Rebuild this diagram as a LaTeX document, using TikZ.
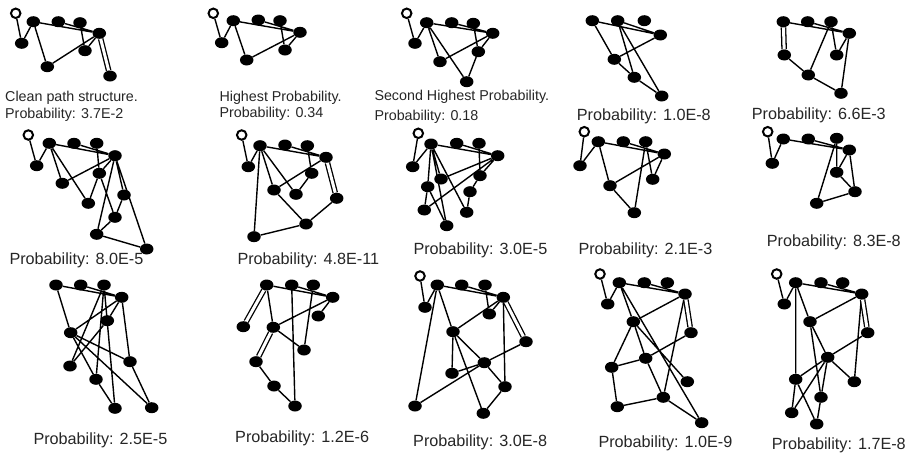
\documentclass[tikz,border=0pt]{standalone}
\usepackage{fontspec}
\setmainfont{Liberation Sans}
\usetikzlibrary{shapes.geometric}
\pgfdeclarelayer{bg}
\pgfsetlayers{bg,main}
\tikzset{
  v/.style={ellipse, fill=black, minimum width=13.5pt, minimum height=11pt, inner sep=0pt},
  w/.style={circle, draw=black, line width=2pt, fill=white, minimum size=9.5pt, inner sep=0pt},
  e/.style={line width=1.4pt, black},
  dd/.style={line width=1.3pt, double=white, double distance=3pt, black},
  lbl/.style={font=\fontsize{14.3pt}{17pt}\selectfont, text=black!85, anchor=west, inner sep=0pt, align=left},
  lbb/.style={font=\fontsize{16.2pt}{19pt}\selectfont, text=black!85, anchor=west, inner sep=0pt, align=left}
}
\begin{document}
\begin{tikzpicture}[x=1pt,y=-1pt]
\useasboundingbox (0,0) rectangle (911,458);
% ---------- Graph 1
\node[w] (g1w) at (15.7,13.3) {};
\node[v] (g1a) at (33.3,21.7) {};
\node[v] (g1b) at (58.3,21.7) {};
\node[v] (g1c) at (80,22.7) {};
\node[v] (g1d) at (99.3,33.3) {};
\node[v] (g1e) at (21.7,43.3) {};
\node[v] (g1f) at (85,50.7) {};
\node[v] (g1g) at (47.3,66.7) {};
\node[v] (g1h) at (110,76) {};
\begin{pgfonlayer}{bg}
\draw[e] (g1w)--(g1e) (g1e)--(g1a) (g1a)--(g1g) (g1a)--(g1d) (g1b)--(g1d) (g1c)--(g1f) (g1g)--(g1d) (g1f)--(g1d);
\draw[dd] (g1d)--(g1h);
\end{pgfonlayer}
\node[lbl] (t1) at (5,98) {Clean path structure.};
\node[lbl] (t1b) at (5,115) {Probability: 3.7E-2};
% ---------- Graph 2
\node[w] (g2w) at (213.3,13.3) {};
\node[v] (g2a) at (233.3,20.7) {};
\node[v] (g2b) at (258.3,20) {};
\node[v] (g2c) at (280,20.7) {};
\node[v] (g2d) at (300,32.3) {};
\node[v] (g2e) at (221.7,42.7) {};
\node[v] (g2f) at (285,50) {};
\node[v] (g2g) at (246.7,60) {};
\begin{pgfonlayer}{bg}
\draw[e] (g2w)--(g2e) (g2e)--(g2a) (g2a)--(g2g) (g2a)--(g2d) (g2b)--(g2d) (g2c)--(g2f) (g2g)--(g2d) (g2f)--(g2d);
\end{pgfonlayer}
\node[lbl] (t2) at (219.3,98.3) {Highest Probability.};
\node[lbl] (t2b) at (219.3,114) {Probability: 0.34};
% ---------- Graph 3
\node[w] (g3w) at (406.7,13.3) {};
\node[v] (g3a) at (426.7,22.7) {};
\node[v] (g3b) at (451.7,22.7) {};
\node[v] (g3c) at (473.3,23.3) {};
\node[v] (g3d) at (492.7,33.3) {};
\node[v] (g3e) at (415,43.3) {};
\node[v] (g3f) at (478.3,51.7) {};
\node[v] (g3g) at (440,61.7) {};
\node[v] (g3h) at (466.7,81.7) {};
\begin{pgfonlayer}{bg}
\draw[e] (g3w)--(g3e) (g3e)--(g3a) (g3a)--(g3d) (g3b)--(g3d) (g3c)--(g3f) (g3f)--(g3d) (g3g)--(g3d) (g3a)--(g3g) (g3a)--(g3h) (g3f)--(g3h);
\end{pgfonlayer}
\node[lbl] (t3) at (374.3,96.7) {Second Highest Probability.};
\node[lbl] (t3b) at (374.3,117.3) {Probability: 0.18};
% ---------- Graph 4
\node[v] (g4a) at (592.3,20.7) {};
\node[v] (g4b) at (617.7,20.7) {};
\node[v] (g4c) at (644.3,20.7) {};
\node[v] (g4d) at (660.3,35) {};
\node[v] (g4e) at (614.3,59.3) {};
\node[v] (g4f) at (634.3,77.3) {};
\node[v] (g4g) at (661.7,96) {};
\begin{pgfonlayer}{bg}
\draw[e] (g4a)--(g4d) (g4b)--(g4d) (g4a)--(g4e) (g4e)--(g4d) (g4b)--(g4f) (g4b)--(g4g) (g4e)--(g4f) (g4f)--(g4g);
\end{pgfonlayer}
\node[lbb] (t4) at (576.7,116) {Probability: 1.0E-8};
% ---------- Graph 5
\node[v] (g5a) at (783.3,21.7) {};
\node[v] (g5b) at (807.7,21.7) {};
\node[v] (g5c) at (831,21.7) {};
\node[v] (g5d) at (849.3,33.3) {};
\node[v] (g5e) at (784.3,55) {};
\node[v] (g5f) at (836.7,55) {};
\node[v] (g5g) at (808.3,75) {};
\node[v] (g5h) at (841,93.3) {};
\begin{pgfonlayer}{bg}
\draw[e] (g5a)--(g5d) (g5b)--(g5d) (g5c)--(g5g) (g5c)--(g5f) (g5f)--(g5d) (g5d)--(g5h) (g5e)--(g5g) (g5g)--(g5h);
\draw[dd] (g5a)--(g5e);
\end{pgfonlayer}
\node[lbb] (t5) at (751.7,115) {Probability: 6.6E-3};
% ---------- Graph 6
\node[w] (g6w) at (28.3,135) {};
\node[v] (g6a) at (49.3,143.3) {};
\node[v] (g6b) at (74,143.3) {};
\node[v] (g6c) at (96.7,143.3) {};
\node[v] (g6d) at (115,155.7) {};
\node[v] (g6e) at (36.7,165.7) {};
\node[v] (g6f) at (99.3,173.3) {};
\node[v] (g6g) at (62.3,183.3) {};
\node[v] (g6h) at (124,195) {};
\node[v] (g6i) at (88.3,203.3) {};
\node[v] (g6j) at (115,217.3) {};
\node[v] (g6k) at (96.7,234.3) {};
\node[v] (g6l) at (146.7,249) {};
\begin{pgfonlayer}{bg}
\draw[e] (g6w)--(g6e) (g6e)--(g6a) (g6a)--(g6d) (g6b)--(g6d) (g6c)--(g6f) (g6f)--(g6d) (g6g)--(g6d) (g6a)--(g6g) (g6a)--(g6i) (g6f)--(g6i) (g6f)--(g6j) (g6d)--(g6h) (g6d)--(g6k) (g6d)--(g6l) (g6h)--(g6j) (g6j)--(g6k) (g6k)--(g6l);
\end{pgfonlayer}
\node[lbb] (t6) at (9.3,260) {Probability: 8.0E-5};
% ---------- Graph 7
\node[w] (g7w) at (241.7,135) {};
\node[v] (g7a) at (260,145.7) {};
\node[v] (g7b) at (285,145) {};
\node[v] (g7c) at (307.3,145.7) {};
\node[v] (g7d) at (326,157.3) {};
\node[v] (g7e) at (248.3,166.7) {};
\node[v] (g7f) at (311.7,173.3) {};
\node[v] (g7g) at (274,190) {};
\node[v] (g7h) at (336.7,198.3) {};
\node[v] (g7i) at (296,194.3) {};
\node[v] (g7j) at (306,224) {};
\node[v] (g7k) at (254,236.7) {};
\begin{pgfonlayer}{bg}
\draw[e] (g7w)--(g7e) (g7e)--(g7a) (g7a)--(g7d) (g7b)--(g7d) (g7c)--(g7f) (g7f)--(g7i) (g7g)--(g7d) (g7a)--(g7g) (g7a)--(g7i) (g7a)--(g7k) (g7g)--(g7j) (g7j)--(g7h) (g7k)--(g7j);
\draw[dd] (g7d)--(g7h);
\end{pgfonlayer}
\node[lbb] (t7) at (237.3,260) {Probability: 4.8E-11};
% ---------- Graph 8
\node[w] (g8w) at (418.3,133.3) {};
\node[v] (g8a) at (431,144) {};
\node[v] (g8b) at (456.7,143.3) {};
\node[v] (g8c) at (479,143.3) {};
\node[v] (g8d) at (497.7,155.7) {};
\node[v] (g8e) at (412.7,166.7) {};
\node[v] (g8f) at (480,175.7) {};
\node[v] (g8g) at (441,179) {};
\node[v] (g8h) at (427.7,186.7) {};
\node[v] (g8i) at (470,191.7) {};
\node[v] (g8j) at (424.3,210) {};
\node[v] (g8k) at (466.7,212.3) {};
\node[v] (g8l) at (446.7,225.7) {};
\begin{pgfonlayer}{bg}
\draw[e] (g8w)--(g8e) (g8e)--(g8a) (g8a)--(g8d) (g8b)--(g8d) (g8c)--(g8f) (g8f)--(g8d) (g8g)--(g8d) (g8a)--(g8h) (g8a)--(g8g) (g8a)--(g8l) (g8a)--(g8k) (g8h)--(g8j) (g8h)--(g8l) (g8j)--(g8d) (g8f)--(g8i) (g8i)--(g8k);
\end{pgfonlayer}
\node[lbb] (t8) at (413.3,250) {Probability: 3.0E-5};
% ---------- Graph 9
\node[w] (g9w) at (584.3,131.7) {};
\node[v] (g9a) at (598.3,141.7) {};
\node[v] (g9b) at (623.3,141.7) {};
\node[v] (g9c) at (645.7,141.7) {};
\node[v] (g9d) at (664.3,154) {};
\node[v] (g9e) at (580,165.7) {};
\node[v] (g9f) at (652.7,179.3) {};
\node[v] (g9g) at (610,185.7) {};
\node[v] (g9h) at (634.3,212.7) {};
\begin{pgfonlayer}{bg}
\draw[e] (g9w)--(g9e) (g9e)--(g9a) (g9a)--(g9d) (g9b)--(g9d) (g9c)--(g9f) (g9f)--(g9d) (g9a)--(g9g) (g9g)--(g9d) (g9g)--(g9h) (g9c)--(g9h);
\end{pgfonlayer}
\node[lbb] (t9) at (578.3,250) {Probability: 2.1E-3};
% ---------- Graph 10
\node[w] (g10w) at (767.7,131.7) {};
\node[v] (g10a) at (783.3,139) {};
\node[v] (g10b) at (808.3,139) {};
\node[v] (g10c) at (836.7,138.3) {};
\node[v] (g10d) at (849.3,150) {};
\node[v] (g10e) at (772.3,163.3) {};
\node[v] (g10f) at (836.7,172.3) {};
\node[v] (g10g) at (855,191.7) {};
\node[v] (g10h) at (816.7,203.3) {};
\begin{pgfonlayer}{bg}
\draw[e] (g10w)--(g10e) (g10e)--(g10a) (g10a)--(g10d) (g10b)--(g10d) (g10c)--(g10f) (g10f)--(g10d) (g10d)--(g10g) (g10f)--(g10g) (g10c)--(g10h) (g10h)--(g10g);
\end{pgfonlayer}
\node[lbb] (t10) at (766.7,242.3) {Probability: 8.3E-8};
% ---------- Graph 11
\node[v] (g11a) at (56,285) {};
\node[v] (g11b) at (80.7,285) {};
\node[v] (g11c) at (104,285) {};
\node[v] (g11d) at (121.7,297.3) {};
\node[v] (g11e) at (107.3,320.7) {};
\node[v] (g11f) at (70.7,332.7) {};
\node[v] (g11g) at (130,361.7) {};
\node[v] (g11h) at (70,366) {};
\node[v] (g11i) at (96,379.3) {};
\node[v] (g11j) at (115,408.3) {};
\node[v] (g11k) at (151.7,407.7) {};
\begin{pgfonlayer}{bg}
\draw[e] (g11a)--(g11d) (g11b)--(g11d) (g11a)--(g11f) (g11f)--(g11d) (g11c)--(g11i) (g11c)--(g11j) (g11c)--(g11h) (g11d)--(g11e) (g11e)--(g11h) (g11d)--(g11g) (g11f)--(g11g) (g11f)--(g11k) (g11f)--(g11i) (g11g)--(g11k) (g11i)--(g11j);
\end{pgfonlayer}
\node[lbb] (t11) at (33.3,440) {Probability: 2.5E-5};
% ---------- Graph 12
\node[v] (g12a) at (266.7,285) {};
\node[v] (g12b) at (291.7,285) {};
\node[v] (g12c) at (313.3,285) {};
\node[v] (g12d) at (332.7,297.3) {};
\node[v] (g12e) at (318.3,316) {};
\node[v] (g12f) at (243.3,326.7) {};
\node[v] (g12g) at (273.3,327.3) {};
\node[v] (g12h) at (304,350) {};
\node[v] (g12i) at (256,361.7) {};
\node[v] (g12j) at (274,386) {};
\node[v] (g12k) at (295,406) {};
\begin{pgfonlayer}{bg}
\draw[e] (g12a)--(g12d) (g12b)--(g12d) (g12a)--(g12g) (g12c)--(g12h) (g12e)--(g12d) (g12g)--(g12d) (g12g)--(g12h) (g12b)--(g12k) (g12i)--(g12j) (g12j)--(g12k);
\draw[dd] (g12a)--(g12f) (g12g)--(g12i);
\end{pgfonlayer}
\node[lbb] (t12) at (235,438.3) {Probability: 1.2E-6};
% ---------- Graph 13
\node[w] (g13w) at (420,276) {};
\node[v] (g13a) at (437.3,285) {};
\node[v] (g13b) at (461.7,285) {};
\node[v] (g13c) at (485,285) {};
\node[v] (g13d) at (503.3,297.3) {};
\node[v] (g13e) at (425,307.3) {};
\node[v] (g13f) at (489.3,314) {};
\node[v] (g13g) at (453,331.7) {};
\node[v] (g13h) at (526,341.7) {};
\node[v] (g13i) at (484.3,362.7) {};
\node[v] (g13j) at (505,386.7) {};
\node[v] (g13k) at (415,406) {};
\node[v] (g13l) at (452,373.3) {};
\node[v] (g13m) at (483.3,413.3) {};
\begin{pgfonlayer}{bg}
\draw[e] (g13w)--(g13e) (g13e)--(g13a) (g13a)--(g13d) (g13b)--(g13d) (g13c)--(g13f) (g13f)--(g13d) (g13g)--(g13d) (g13a)--(g13k) (g13a)--(g13g) (g13g)--(g13l) (g13g)--(g13i) (g13g)--(g13m) (g13l)--(g13i) (g13k)--(g13i) (g13i)--(g13h) (g13d)--(g13j) (g13i)--(g13j) (g13j)--(g13m);
\draw[dd] (g13d)--(g13h);
\end{pgfonlayer}
\node[lbb] (t13) at (413,442.7) {Probability: 3.0E-8};
% ---------- Graph 14
\node[w] (g14w) at (600,274) {};
\node[v] (g14a) at (619.3,282.7) {};
\node[v] (g14b) at (644.3,282.7) {};
\node[v] (g14c) at (667.3,282.7) {};
\node[v] (g14d) at (685,294) {};
\node[v] (g14e) at (607.7,304) {};
\node[v] (g14f) at (633.3,321.7) {};
\node[v] (g14g) at (691,332.7) {};
\node[v] (g14h) at (645.7,358.3) {};
\node[v] (g14i) at (611.7,367.3) {};
\node[v] (g14j) at (687.3,381.7) {};
\node[v] (g14k) at (663.3,397.3) {};
\node[v] (g14l) at (617.3,406.7) {};
\node[v] (g14m) at (701.7,422.7) {};
\begin{pgfonlayer}{bg}
\draw[e] (g14w)--(g14e) (g14e)--(g14a) (g14a)--(g14d) (g14b)--(g14d) (g14a)--(g14f) (g14f)--(g14h) (g14a)--(g14m) (g14f)--(g14d) (g14d)--(g14k) (g14f)--(g14i) (g14i)--(g14h) (g14h)--(g14g) (g14h)--(g14k) (g14i)--(g14l) (g14l)--(g14k) (g14k)--(g14m) (g14f)--(g14j);
\draw[dd] (g14d)--(g14g);
\end{pgfonlayer}
\node[lbb] (t14) at (598.3,443.3) {Probability: 1.0E-9};
% ---------- Graph 15
\node[w] (g15w) at (776.7,274) {};
\node[v] (g15a) at (795.7,282.7) {};
\node[v] (g15b) at (821,282.7) {};
\node[v] (g15c) at (842.7,282.7) {};
\node[v] (g15d) at (861.7,294) {};
\node[v] (g15e) at (784.3,304) {};
\node[v] (g15f) at (810,321.7) {};
\node[v] (g15g) at (867.7,332.7) {};
\node[v] (g15h) at (827.7,357.3) {};
\node[v] (g15i) at (795.7,379.3) {};
\node[v] (g15j) at (854.3,381.7) {};
\node[v] (g15k) at (821,397.3) {};
\node[v] (g15l) at (791.7,412.7) {};
\node[v] (g15m) at (816.7,424) {};
\begin{pgfonlayer}{bg}
\draw[e] (g15w)--(g15e) (g15e)--(g15a) (g15a)--(g15d) (g15b)--(g15d) (g15a)--(g15i) (g15a)--(g15f) (g15f)--(g15d) (g15d)--(g15j) (g15g)--(g15h) (g15f)--(g15h) (g15f)--(g15k) (g15h)--(g15j) (g15h)--(g15i) (g15h)--(g15l) (g15i)--(g15l) (g15i)--(g15m) (g15k)--(g15m) (g15h)--(g15k);
\draw[dd] (g15d)--(g15g);
\end{pgfonlayer}
\node[lbb] (t15) at (771.7,445) {Probability: 1.7E-8};
\end{tikzpicture}
\end{document}
